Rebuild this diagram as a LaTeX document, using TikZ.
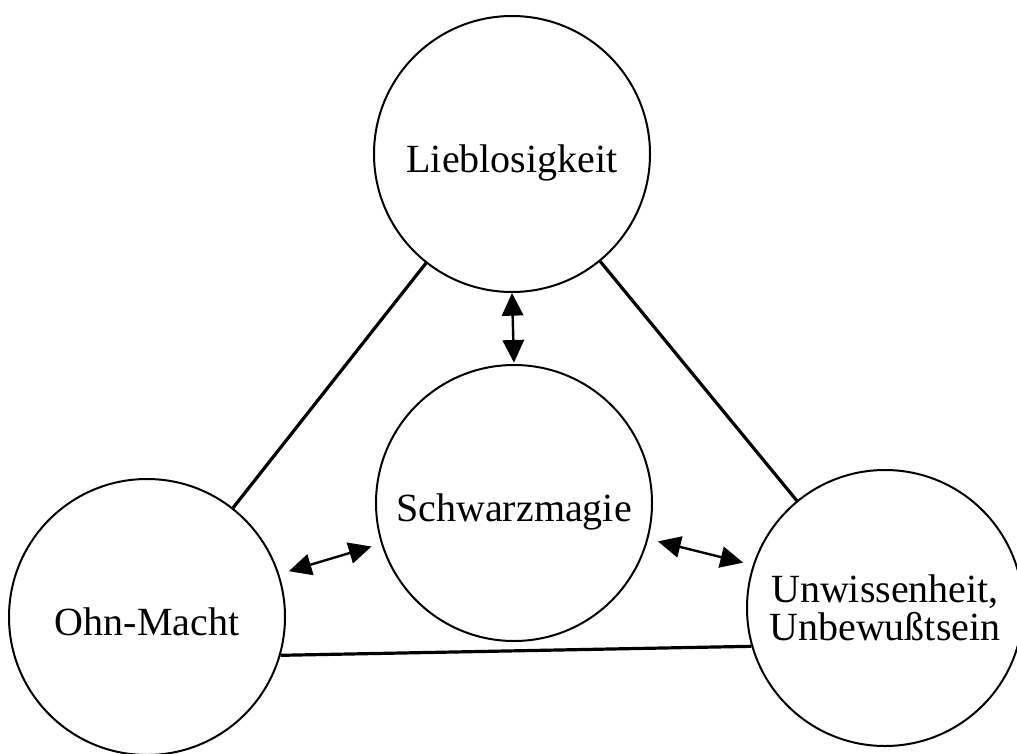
\documentclass[tikz,border=0pt]{standalone}
\usepackage{fontspec}
\setmainfont{Liberation Serif}
\usetikzlibrary{arrows.meta}
\begin{document}
\begin{tikzpicture}[x=0.75pt,y=-0.75pt,
  ring/.style={draw,circle,line width=1.5pt,minimum size=207pt,inner sep=0pt,
    font=\fontsize{30}{28.5}\selectfont},
  lowtext/.style={text height=28pt,text depth=0pt},
  link/.style={line width=2.4pt},
  arr/.style={line width=1.8pt,{Triangle[length=17pt,width=16pt]}-{Triangle[length=17pt,width=16pt]}}]
\useasboundingbox (0,0) rectangle (1017,753);
\node[ring,lowtext] (lb) at (512,154) {Lieblosigkeit};
\node[ring,lowtext] (sm) at (514,503) {Schwarzmagie};
\node[ring,lowtext] (om) at (147,617) {Ohn-Macht};
\node[ring,align=center] (uw) at (885,608) {Unwissenheit,\\Unbewußtsein};
\draw[link] (lb) -- (om);
\draw[link] (lb) -- (uw);
\draw[link] (om.-16.5) -- (uw.196.7);
\draw[arr,shorten >=1pt] (lb.south) -- (sm.north);
\draw[arr,shorten <=7.5pt,shorten >=7.5pt] (om.18.6) -- (sm.197.6);
\draw[arr,shorten <=7.5pt,shorten >=7.5pt] (sm.-15.6) -- (uw.162);
\end{tikzpicture}
\end{document}
